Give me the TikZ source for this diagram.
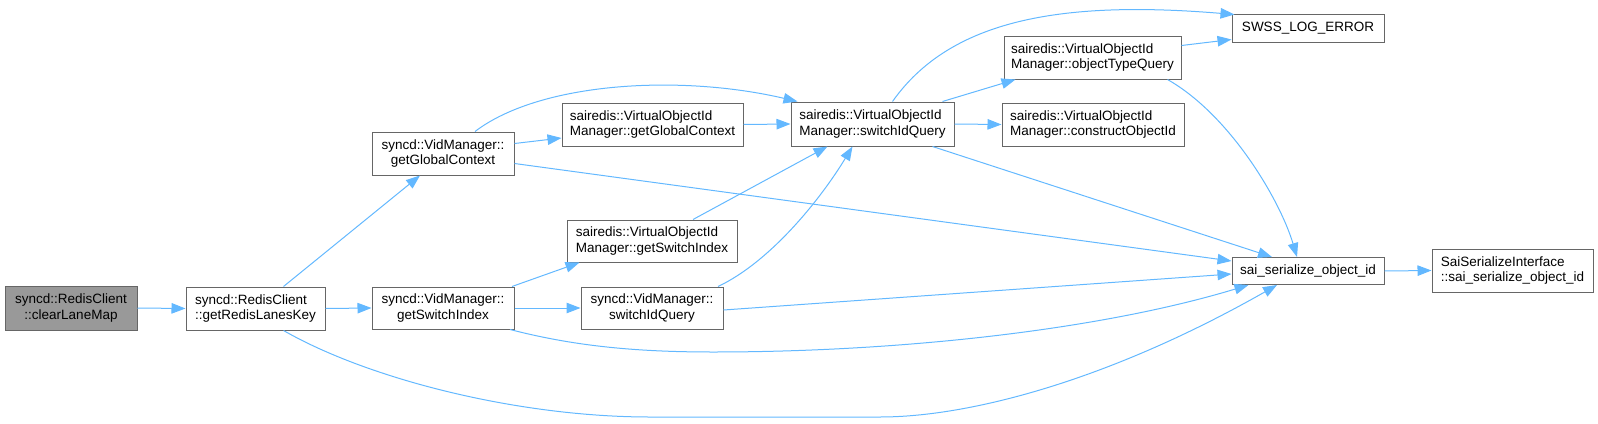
\documentclass[tikz,border=0pt]{standalone}
\usepackage{fontspec}
\setmainfont{Liberation Sans}
\usetikzlibrary{arrows.meta,calc}
\definecolor{edgeblue}{HTML}{63B8FF}
\definecolor{boxgray}{HTML}{666666}
\definecolor{rootfill}{HTML}{999999}
\begin{document}
\begin{tikzpicture}[x=1pt,y=-1pt,
  box/.style={draw=boxgray, line width=1pt, fill=white, inner sep=0pt, font=\fontsize{13.5}{15.7}\selectfont, text=black},
  rootbox/.style={box, fill=rootfill},
  edge/.style={draw=edgeblue, line width=1pt, -{Triangle[length=14pt,width=10.5pt]}}
]
\useasboundingbox (0,0) rectangle (1598,423);
% nodes
\node[rootbox, minimum width=132pt, minimum height=44pt, align=center] (A) at (71,308) {syncd::RedisClient\\::clearLaneMap};
\node[box, minimum width=139pt, minimum height=43pt, align=left] (B) at (255.5,308.5) {syncd::RedisClient\\::getRedisLanesKey};
\node[box, minimum width=142pt, minimum height=43pt, align=center] (C) at (443,153.5) {syncd::VidManager::\\getGlobalContext};
\node[box, minimum width=181pt, minimum height=43pt, align=left] (D) at (652.5,124.5) {sairedis::VirtualObjectId\\Manager::getGlobalContext};
\node[box, minimum width=170pt, minimum height=42pt, align=left] (E) at (652,241) {sairedis::VirtualObjectId\\Manager::getSwitchIndex};
\node[box, minimum width=142pt, minimum height=42pt, align=center] (F) at (443,308) {syncd::VidManager::\\getSwitchIndex};
\node[box, minimum width=142pt, minimum height=42pt, align=center] (G) at (652,308) {syncd::VidManager::\\switchIdQuery};
\node[box, minimum width=163pt, minimum height=44pt, align=left] (H) at (872.5,124) {sairedis::VirtualObjectId\\Manager::switchIdQuery};
\node[box, minimum width=177pt, minimum height=43pt, align=left] (I) at (1092.5,57.5) {sairedis::VirtualObjectId\\Manager::objectTypeQuery};
\node[box, minimum width=182pt, minimum height=43pt, align=left] (J) at (1093,124.5) {sairedis::VirtualObjectId\\Manager::constructObjectId};
\node[box, minimum width=152pt, minimum height=28pt] (K) at (1308,28) {SWSS\_LOG\_ERROR};
\node[box, minimum width=152pt, minimum height=27pt] (L) at (1308,271) {sai\_serialize\_object\_id};
\node[box, minimum width=161pt, minimum height=43pt, align=left] (M) at (1512.5,270.5) {SaiSerializeInterface\\::sai\_serialize\_object\_id};
% edges
\draw[edge] (A.east) -- (B.west);
\draw[edge] ($(B.north)+(28,0)$) -- ($(C.south)+(-23,0)$);
\draw[edge] (B.east) -- (F.west);
\draw[edge] ($(B.south)+(28,0)$) .. controls (370,380) and (520,417) .. (650,417) -- (880,417) .. controls (970,417) and (1110,380) .. ($(L.south)+(-31,0)$);
\draw[edge] ($(C.east)+(0,-10)$) -- ($(D.west)+(0,13.5)$);
\draw[edge] ($(C.north)+(32,0)$) .. controls (540,82) and (680,74) .. ($(H.north west)+(7,0)$);
\draw[edge] ($(C.east)+(0,10)$) -- ($(L.west)+(0,-10)$);
\draw[edge] (D.east) -- (H.west);
\draw[edge] ($(F.north)+(69,0)$) -- ($(E.south west)+(13,0)$);
\draw[edge] (F.east) -- (G.west);
\draw[edge] ($(F.south)+(67,0)$) .. controls (570,345) and (630,352) .. (713,352) .. controls (900,352) and (1100,330) .. ($(L.south west)+(17,0)$);
\draw[edge] ($(E.north)+(41,0)$) -- ($(H.south)+(-45,0)$);
\draw[edge] ($(G.north)+(66,0)$) .. controls (770,262) and (820,200) .. ($(H.south)+(-20,0)$);
\draw[edge] ($(G.east)+(0,2)$) -- ($(L.west)+(0,3)$);
\draw[edge] ($(H.north)+(20,0)$) .. controls (950,20) and (1060,0) .. ($(K.north west)+(3,1)$);
\draw[edge] ($(H.north)+(70,0)$) -- ($(I.south west)+(12,0)$);
\draw[edge] (H.east) -- (J.west);
\draw[edge] ($(H.south)+(60,0)$) -- ($(L.north)+(-36,0)$);
\draw[edge] ($(I.east)+(0,-12)$) -- ($(K.south west)+(0,-3)$);
\draw[edge] ($(I.south east)+(-14,0)$) .. controls (1230,115) and (1280,200) .. ($(L.north)+(-11,0)$);
\draw[edge] (L.east) -- (M.west);
\end{tikzpicture}
\end{document}
